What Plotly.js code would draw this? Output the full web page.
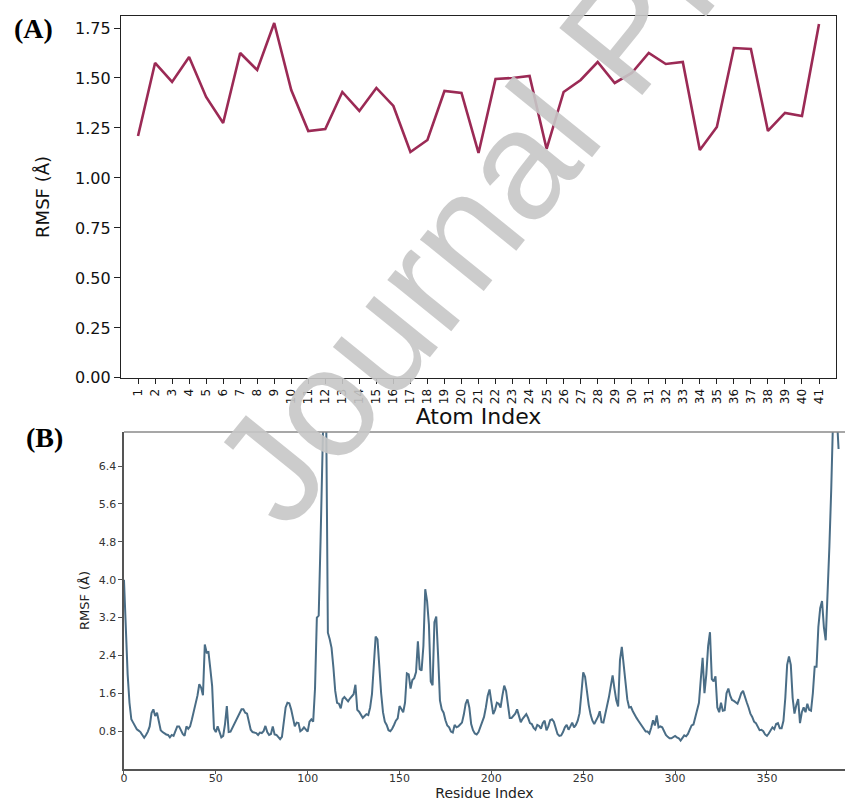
<!DOCTYPE html>
<html>
<head>
<meta charset="utf-8">
<script src="https://cdn.plot.ly/plotly-3.0.1.min.js"></script>
<style>html,body{margin:0;padding:0;background:#fff;}#chart{width:845px;height:801px;}</style>
</head>
<body>
<div id="chart"></div>
<script>
// Panel A: RMSF per atom
const atomIndex = [1,2,3,4,5,6,7,8,9,10,11,12,13,14,15,16,17,18,19,20,21,22,23,24,25,26,27,28,29,30,31,32,33,34,35,36,37,38,39,40,41];
const atomRMSF = [1.21,1.575,1.48,1.605,1.405,1.275,1.625,1.54,1.775,1.44,1.235,1.245,1.43,1.335,1.45,1.36,1.13,1.19,1.435,1.425,1.125,1.495,1.5,1.51,1.145,1.43,1.49,1.58,1.475,1.525,1.625,1.57,1.58,1.14,1.255,1.65,1.645,1.235,1.325,1.31,1.77];
const atomTickLabels = atomIndex.map(String);

// Panel B: RMSF per residue (index 0..389)
const residueRMSF = [
4.0,2.9,2.0,1.4,1.05,0.98,0.9,0.84,0.81,0.78,
0.72,0.66,0.72,0.79,0.9,1.18,1.26,1.12,1.19,1.0,
0.82,0.78,0.75,0.73,0.72,0.67,0.72,0.7,0.8,0.9,
0.9,0.8,0.74,0.7,0.9,0.85,0.9,1.05,1.2,1.35,
1.55,1.79,1.72,1.56,2.63,2.46,2.47,2.12,1.75,0.85,
0.78,0.9,0.78,0.67,0.7,0.95,1.33,0.78,0.79,0.87,
0.97,1.05,1.12,1.2,1.26,1.26,1.19,1.17,1.0,0.83,
0.78,0.77,0.76,0.72,0.77,0.76,0.8,0.91,0.78,0.72,
0.74,0.9,0.73,0.72,0.68,0.63,0.68,0.95,1.3,1.4,
1.39,1.26,1.05,0.9,0.98,0.97,0.8,0.83,0.88,0.83,
0.79,1.0,1.05,1.0,1.7,3.2,3.24,4.8,7.6,8.3,
7.9,2.88,2.74,2.56,2.15,1.65,1.4,1.38,1.28,1.48,
1.52,1.47,1.43,1.49,1.54,1.58,1.78,1.25,1.21,1.13,
1.08,1.12,1.16,1.14,1.3,1.58,2.3,2.8,2.74,2.1,
1.6,1.2,1.0,0.93,0.82,0.8,0.85,0.93,1.02,1.07,
1.33,1.27,1.2,1.4,2.02,2.0,1.7,1.88,1.92,2.05,
2.7,2.11,2.08,2.6,3.8,3.55,3.05,1.85,1.77,3.1,
3.22,2.4,1.45,1.26,1.19,1.03,0.92,0.88,0.79,0.77,
0.93,0.88,0.9,0.94,0.98,1.15,1.38,1.47,1.3,0.95,
0.82,0.75,0.73,0.78,0.88,1.0,1.1,1.3,1.55,1.68,
1.45,1.16,1.25,1.4,1.38,1.3,1.55,1.76,1.65,1.35,
1.08,1.08,1.12,1.17,1.26,1.12,0.99,1.06,1.12,1.16,
1.08,0.97,0.95,0.87,0.83,0.93,0.91,0.85,0.97,1.02,
0.82,0.9,1.03,1.05,1.0,0.85,0.74,0.7,0.71,0.78,
0.88,0.93,0.83,0.9,0.98,0.88,0.93,1.02,1.18,1.6,
2.04,1.95,1.58,1.35,1.15,1.02,0.95,1.02,1.1,1.22,
0.99,0.98,1.15,1.35,1.52,1.75,1.98,1.7,1.45,1.32,
2.3,2.58,2.2,1.82,1.47,1.3,1.31,1.22,1.14,1.08,
1.02,0.96,0.9,0.85,0.79,0.79,0.75,0.87,1.03,0.92,
1.13,0.88,0.9,0.88,0.8,0.72,0.68,0.65,0.65,0.67,
0.7,0.67,0.65,0.6,0.66,0.71,0.69,0.74,0.83,0.92,
0.94,1.1,1.21,1.4,1.9,2.35,1.6,2.0,2.6,2.89,
1.9,1.85,1.96,1.3,1.2,1.4,1.23,1.24,1.6,1.7,
1.55,1.46,1.44,1.4,1.38,1.48,1.6,1.65,1.5,1.41,
1.3,1.17,1.1,1.0,0.97,0.9,0.82,0.83,0.8,0.73,
0.7,0.75,0.83,0.88,0.84,0.95,0.97,0.86,0.86,1.02,
1.5,2.2,2.38,2.2,1.5,1.17,1.35,1.48,0.97,1.2,
1.3,1.2,1.38,1.25,1.23,1.6,2.16,2.16,3.0,3.4,
3.55,3.0,2.72,3.6,4.7,5.9,7.4,7.15,7.5,6.76
];
const residueIndex = residueRMSF.map((_, i) => i);

const yTicksA = [0,0.25,0.5,0.75,1.0,1.25,1.5,1.75];
const xTicksB = [0,50,100,150,200,250,300,350];
const yTicksB = [0.8,1.6,2.4,3.2,4.0,4.8,5.6,6.4];

const FONT = 'DejaVu Sans, sans-serif';

const traces = [
  {x: atomIndex, y: atomRMSF, type: 'scatter', mode: 'lines', xaxis: 'x', yaxis: 'y',
   line: {color: '#9b2a55', width: 2.6}, hoverinfo: 'x+y', showlegend: false},
  {x: residueIndex, y: residueRMSF, type: 'scatter', mode: 'lines', xaxis: 'x2', yaxis: 'y2',
   line: {color: '#4a6d86', width: 2}, hoverinfo: 'x+y', showlegend: false}
];

const layout = {
  width: 845, height: 801,
  margin: {l: 121, r: 0, t: 16, b: 32},
  paper_bgcolor: '#fff', plot_bgcolor: '#fff',
  font: {family: FONT, color: '#222'},
  showlegend: false,
  xaxis: {
    domain: [0, 0.9876], range: [0, 42], anchor: 'y',
    tickmode: 'array', tickvals: atomIndex, ticktext: atomTickLabels, tickangle: -90,
    tickfont: {size: 12, family: FONT, color: '#111'},
    ticks: 'outside', ticklen: 5, tickcolor: '#222', tickwidth: 1,
    showline: true, linecolor: '#222', linewidth: 1.2, mirror: true,
    showgrid: false, zeroline: false,
    title: {text: 'Atom Index', font: {size: 22, family: FONT, color: '#111'}, standoff: 2}
  },
  yaxis: {
    domain: [0.5194, 1], range: [0, 1.81], anchor: 'x',
    tickmode: 'array', tickvals: yTicksA, tickformat: '.2f',
    tickfont: {size: 16, family: FONT, color: '#111'},
    ticks: 'outside', ticklen: 6, tickcolor: '#222', tickwidth: 1,
    showline: true, linecolor: '#222', linewidth: 1.2, mirror: true,
    showgrid: false, zeroline: false,
    title: {text: 'RMSF (Å)', font: {size: 18, family: FONT, color: '#111'}, standoff: 20}
  },
  xaxis2: {
    domain: [0.0041, 1], range: [0, 392.5], anchor: 'y2',
    tickmode: 'array', tickvals: xTicksB,
    tickfont: {size: 11, family: FONT, color: '#333'},
    ticks: 'outside', ticklen: 3, tickcolor: '#555', tickwidth: 1, ticklabelstandoff: -5,
    showline: true, linecolor: '#555', linewidth: 1.5,
    showgrid: false, zeroline: false,
    title: {text: 'Residue Index', font: {size: 14, family: FONT, color: '#222'}, standoff: 3}
  },
  yaxis2: {
    domain: [0, 0.4475], range: [0, 7.12], anchor: 'x2',
    tickmode: 'array', tickvals: yTicksB, tickformat: '.1f',
    tickfont: {size: 11, family: FONT, color: '#333'},
    ticks: 'outside', ticklen: 4, tickcolor: '#555', tickwidth: 1,
    showline: true, linecolor: '#555', linewidth: 1.5,
    showgrid: false, zeroline: false,
    title: {text: 'RMSF (Å)', font: {size: 13, family: FONT, color: '#222'}, standoff: 6}
  },
  shapes: [
    {type: 'line', xref: 'x2 domain', yref: 'y2 domain', x0: 0, x1: 1, y0: 1, y1: 1,
     line: {color: '#8a8a8a', width: 1.5}}
  ],
  annotations: [
    {text: '<b>(A)</b>', xref: 'paper', yref: 'paper', x: -0.1215, y: 0.983,
     xanchor: 'center', yanchor: 'middle', showarrow: false,
     font: {family: 'Liberation Serif, serif', size: 28, color: '#000'}},
    {text: '<b>(B)</b>', xref: 'paper', yref: 'paper', x: -0.105, y: 0.4403,
     xanchor: 'center', yanchor: 'middle', showarrow: false,
     font: {family: 'Liberation Serif, serif', size: 28, color: '#000'}},
    {text: 'Journal Pre-proof', xref: 'paper', yref: 'paper', x: 0.693, y: 0.975,
     xanchor: 'center', yanchor: 'middle', showarrow: false, textangle: -51,
     font: {family: 'Liberation Sans, Arial, sans-serif', size: 155, color: 'rgba(198,198,198,0.9)'}}
  ]
};

Plotly.newPlot('chart', traces, layout, {staticPlot: true, displayModeBar: false});
</script>
</body>
</html>
